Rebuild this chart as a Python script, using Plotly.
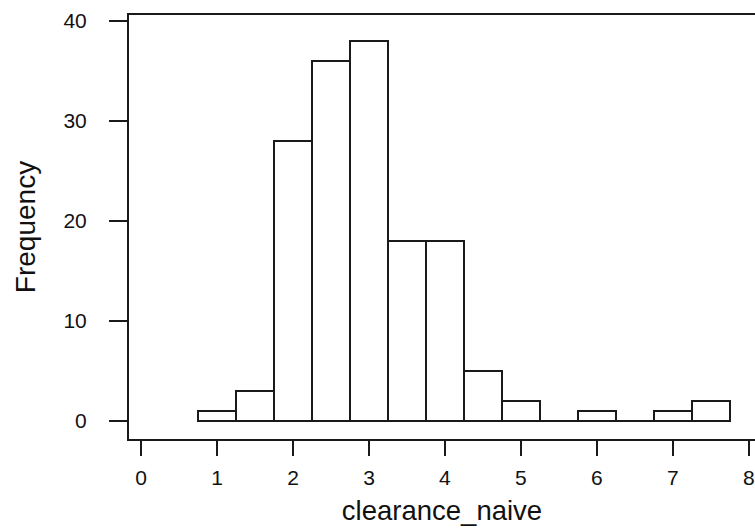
import plotly.graph_objects as go

# Histogram of clearance_naive (bin width 0.5, breaks 0.75 .. 7.75)
breaks = [0.75, 1.25, 1.75, 2.25, 2.75, 3.25, 3.75, 4.25, 4.75, 5.25, 5.75, 6.25, 6.75, 7.25, 7.75]
counts = [1, 3, 28, 36, 38, 18, 18, 5, 2, 0, 1, 0, 1, 2]
x_ticks = [0, 1, 2, 3, 4, 5, 6, 7, 8]
y_ticks = [0, 10, 20, 30, 40]

centers = [(a + b) / 2 for a, b in zip(breaks[:-1], breaks[1:])]
widths = [b - a for a, b in zip(breaks[:-1], breaks[1:])]

INK = "#1a1a1a"
FONT = "Liberation Sans, Arial, sans-serif"

fig = go.Figure()
# baseline of the histogram (R draws zero-height cells as lines)
fig.add_trace(go.Scatter(
    x=[breaks[0], breaks[-1]], y=[0, 0], mode="lines",
    line=dict(color=INK, width=2), hoverinfo="skip", showlegend=False,
))
fig.add_trace(go.Bar(
    x=centers, y=counts, width=widths,
    marker=dict(color="white", line=dict(color=INK, width=2)),
    showlegend=False,
))

fig.update_layout(
    width=755, height=532,
    margin=dict(l=129, r=0, t=15, b=93),
    paper_bgcolor="white", plot_bgcolor="white",
    font=dict(family=FONT, color="#111111"),
    bargap=0,
    xaxis=dict(
        range=[-0.158, 8.08], tickmode="array", tickvals=x_ticks,
        ticktext=[str(v) for v in x_ticks],
        showgrid=False, zeroline=False,
        showline=True, linecolor=INK, linewidth=2, mirror=True,
        ticks="outside", ticklen=15, tickwidth=2, tickcolor=INK,
        tickfont=dict(size=21, family=FONT, color="#111111"),
        ticklabelstandoff=4,
        title=dict(text="clearance_naive", font=dict(size=27.5, family=FONT, color="#111111"), standoff=13),
        automargin=False,
    ),
    yaxis=dict(
        range=[-1.8, 40.6], tickmode="array", tickvals=y_ticks,
        ticktext=[str(v) for v in y_ticks],
        showgrid=False, zeroline=False,
        showline=True, linecolor=INK, linewidth=2, mirror=False,
        ticks="outside", ticklen=18, tickwidth=2, tickcolor=INK,
        tickfont=dict(size=21, family=FONT, color="#111111"),
        ticklabelstandoff=18,
        title=dict(text="Frequency", font=dict(size=28, family=FONT, color="#111111"), standoff=20),
        automargin=False,
    ),
)

fig.write_html("out.html")
